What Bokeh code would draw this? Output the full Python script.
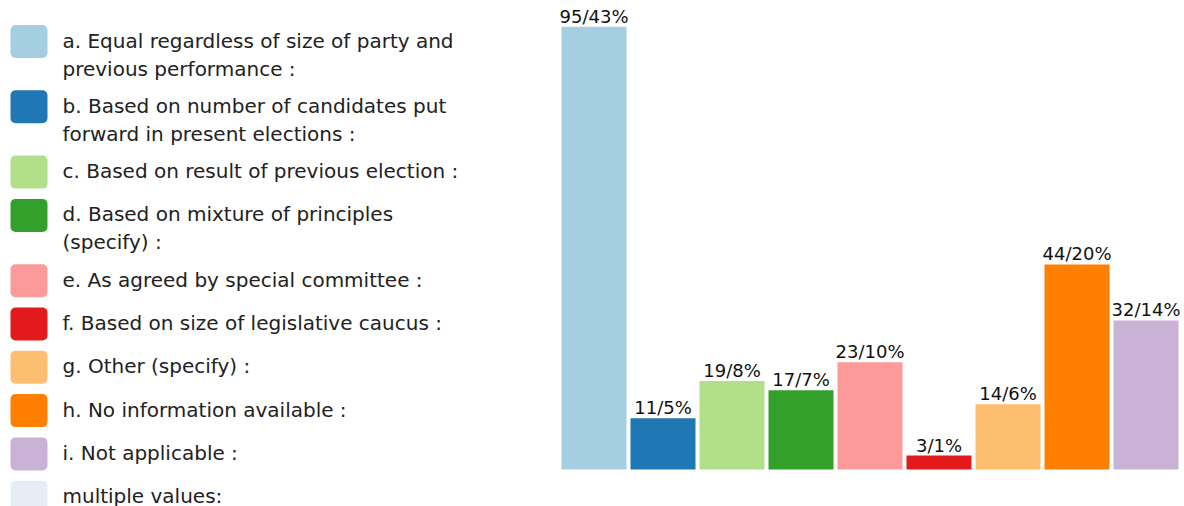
from bokeh.plotting import figure
from bokeh.layouts import row
from bokeh.models import ColumnDataSource, Range1d
from bokeh.core.properties import value
from bokeh.embed import file_html
from bokeh.resources import INLINE

# ---- data ----
categories = [
    "a. Equal regardless of size of party and\nprevious performance :",
    "b. Based on number of candidates put\nforward in present elections :",
    "c. Based on result of previous election :",
    "d. Based on mixture of principles\n(specify) :",
    "e. As agreed by special committee :",
    "f. Based on size of legislative caucus :",
    "g. Other (specify) :",
    "h. No information available :",
    "i. Not applicable :",
]
counts = [95, 11, 19, 17, 23, 3, 14, 44, 32]
percents = [43, 5, 8, 7, 10, 1, 6, 20, 14]
colors = ["#a6cee3", "#1f78b4", "#b2df8a", "#33a02c", "#fb9a99",
          "#e31a1c", "#fdbf6f", "#ff7f00", "#cab2d6"]
extra_label = "multiple values:"
extra_color = "#e8edf5"

FONT = "DejaVu Sans"
W, H = 1184, 506
LEG_W = 555
BAR_W = W - LEG_W

# ---- legend figure (pixel coordinates) ----
leg = figure(width=LEG_W, height=H, output_backend="svg", toolbar_location=None,
             x_range=Range1d(0, LEG_W), y_range=Range1d(H, 0),
             min_border=0, outline_line_color=None)
leg.axis.visible = False
leg.grid.visible = False

all_labels = categories + [extra_label]
all_colors = colors + [extra_color]
sw_l, sw_r, sw_t, sw_b, sw_c = [], [], [], [], []
tx, ty, tt = [], [], []
y = 40.0
for lab, col in zip(all_labels, all_colors):
    lines = lab.split("\n")
    sw_l.append(10); sw_r.append(47)
    sw_t.append(y - 15.5); sw_b.append(y + 17.5)
    sw_c.append(col)
    for k, ln in enumerate(lines):
        tx.append(62); ty.append(y + 28 * k); tt.append(ln)
    y += 43.3 + 22 * (len(lines) - 1)

leg.quad(left=sw_l, right=sw_r, top=sw_t, bottom=sw_b, fill_color=sw_c,
         line_color=None, border_radius=5)
leg.text(x=tx, y=ty, text=tt, text_font=value(FONT), text_font_size="20px",
         text_color="#222222", text_align="left", text_baseline="middle")

# ---- bar figure ----
px_per_cat = 69.0
first_center_px = 38.5
x0 = -first_center_px / px_per_cat
px_per_unit = 4.66
y0 = -37 / px_per_unit
y1 = 469 / px_per_unit

bars = figure(width=BAR_W, height=H, output_backend="svg", toolbar_location=None,
              x_range=Range1d(x0, x0 + BAR_W / px_per_cat),
              y_range=Range1d(y0, y1),
              min_border=0, outline_line_color=None)
bars.axis.visible = False
bars.grid.visible = False

src = ColumnDataSource(dict(
    x=list(range(len(counts))),
    top=counts,
    color=colors,
    label=[f"{c}/{p}%" for c, p in zip(counts, percents)],
))
bars.vbar(x="x", top="top", bottom=0, width=65 / 69, fill_color="color",
          line_color=None, source=src)
bars.text(x="x", y="top", text="label", source=src, text_font=value(FONT),
          text_font_size="18px", text_color="#111111", text_align="center",
          text_baseline="bottom", y_offset=0)

layout = row(leg, bars)
open("out.html", "w").write(file_html(layout, INLINE))
